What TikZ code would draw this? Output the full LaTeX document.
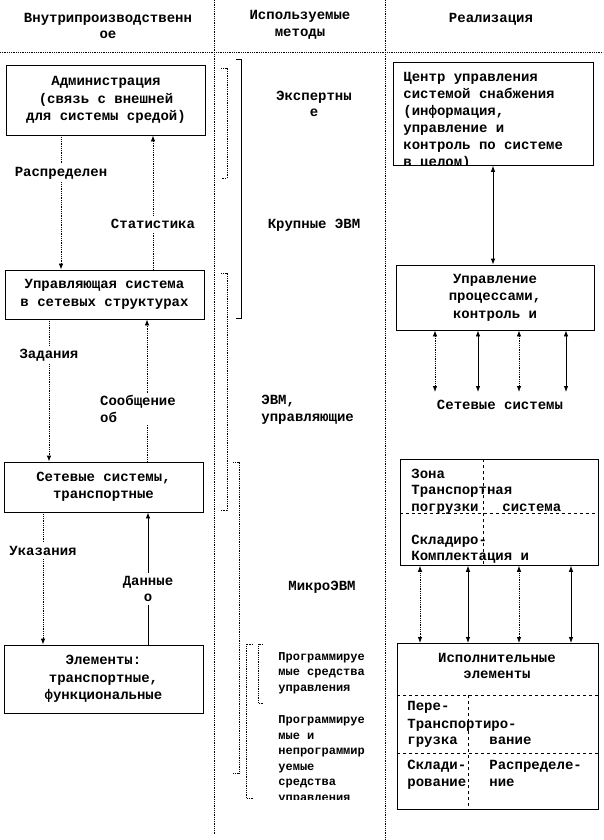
\documentclass[tikz,border=0pt]{standalone}
\usepackage{fontspec}
\setmainfont{Liberation Mono}
\usetikzlibrary{arrows.meta}
\tikzset{
  >={Latex[length=6pt,width=4.5pt]},
  box/.style={draw,line width=.8pt,align=center,font=\bfseries\fontsize{14}{17.5}\selectfont},
  txt/.style={align=center,inner sep=1pt,font=\bfseries\fontsize{14}{16.5}\selectfont},
  lbl/.style={txt,fill=white,inner sep=3pt},
  small/.style={align=left,inner sep=0pt,anchor=west,font=\bfseries\fontsize{12}{15.5}\selectfont},
  dl/.style={densely dotted,line width=.8pt},
}
\begin{document}
\begin{tikzpicture}[x=1pt,y=-1pt,line width=.8pt]
      \useasboundingbox (0,0) rectangle (603,840);
      \draw[dl] (214,0) -- (214,835);
      \draw[dl] (385,0) -- (385,840);
      \draw[dl] (0,52) -- (603,52);

      \node[txt] (h1) at (108,26) {Внутрипроизводственн\\ое};
      \node[txt] (h2) at (300,25) {Используемые\\методы};
      \node[txt] (h3) at (491,19) {Реализация};

      \node[box,minimum width=199pt,minimum height=70pt] (A) at (106,100) {Администрация\\(связь с внешней\\для системы средой)};
      \node[box,minimum width=199pt,minimum height=49pt] (B) at (104.5,294.5) {Управляющая система\\в сетевых структурах};
      \node[box,minimum width=199pt,minimum height=50pt] (C) at (103.5,487) {Сетевые системы,\\транспортные};
      \node[box,minimum width=199pt,minimum height=68pt] (D) at (103.5,679) {Элементы:\\транспортные,\\функциональные};

      \draw[dl,->] (A.south -| 61,0) -- node[lbl,pos=.28]{Распределен} (B.north -| 61,0);
      \draw[dl,->] (B.north -| 153,0) -- node[lbl,pos=.34]{Статистика} (A.south -| 153,0);
      \draw[dl,->] (B.south -| 49,0) -- node[lbl,pos=.25]{Задания} (C.north -| 49,0);
      \draw[dl,->] (C.north -| 147,0) -- node[lbl,pos=.37,xshift=-9pt,align=left]{Сообщение\\об} (B.south -| 147,0);
      \draw[dl,->] (C.south -| 43,0) -- node[lbl,pos=.29]{Указания} (D.north -| 43,0);
      \draw[->] (D.north -| 148,0) -- node[lbl,pos=.42]{Данные\\о} (C.south -| 148,0);

      \draw (236,59) -- (241,59) -- (241,318) -- (236,318);
      \draw[dl] (221,68) -- (227,68) -- (227,178) -- (221,178);
      \draw[dl] (221,273) -- (227,273) -- (227,510) -- (221,510);
      \draw[dl] (233,462) -- (239,462) -- (239,773) -- (233,773);
      \draw[dl] (253,644) -- (246,644) -- (246,798) -- (253,798);
      \draw[dl] (263,644) -- (258,644) -- (258,703) -- (263,703);

      \node[txt] (exp) at (314,104) {Экспертны\\е};
      \node[txt] (big) at (314,225) {Крупные ЭВМ};
      \node[txt,align=left,anchor=west] (ctl) at (260,410) {ЭВМ,\\управляющие};
      \node[txt] (micro) at (322,587) {МикроЭВМ};
      \node[small] (prog) at (278,673) {Программируе\\мые средства\\управления};
      \begin{scope}
        \clip (270,712) rectangle (385,799);
        \node[small] (nprog) at (278,760) {Программируе\\мые и\\непрограммир\\уемые\\средства\\управления};
      \end{scope}

      \begin{scope}
        \clip (393,62) rectangle (593,165.5);
        \node[txt,align=left,anchor=north west,font=\bfseries\fontsize{14}{17}\selectfont] (Rt) at (402,71) {Центр управления\\системой снабжения\\(информация,\\управление и\\контроль по системе\\в целом)};
      \end{scope}
      \node[draw,minimum width=200pt,minimum height=103pt,anchor=north west] (R1) at (393,62) {};
      \node[box,minimum width=198pt,minimum height=65pt] (R2) at (495,297.5) {Управление\\процессами,\\контроль и};
      \draw[<->] (R1.south -| 493,0) -- (R2.north -| 493,0);

      \node[txt] (net) at (500,405) {Сетевые системы};
      \coordinate (n1) at (435,392);
      \coordinate (n2) at (478,392);
      \coordinate (n3) at (519,392);
      \coordinate (n4) at (566,392);
      \draw[dl,<->] (R2.south -| n1) -- (n1);
      \draw[<->] (R2.south -| n2) -- (n2);
      \draw[dl,<->] (R2.south -| n3) -- (n3);
      \draw[<->] (R2.south -| n4) -- (n4);

      \node[draw,minimum width=198pt,minimum height=106pt,anchor=north west] (R3) at (400,459) {};
      \draw[dashed] (R3.north -| 483,0) -- (R3.south -| 483,0);
      \draw[dashed] (R3.west |- 0,513) -- (R3.east |- 0,513);
      \node[txt,anchor=base west] (z1) at (410,478) {Зона};
      \node[txt,anchor=base west] (z2) at (410,494) {Транспортная};
      \node[txt,anchor=base west] (z3) at (410,511) {погрузки};
      \node[txt,anchor=base west] (z4) at (501,511) {система};
      \node[txt,anchor=base west] (z5) at (410,544) {Складиро-};
      \node[txt,anchor=base west] (z6) at (410,560) {Комплектация и};

      \node[draw,minimum width=201pt,minimum height=166pt,anchor=north west] (R4) at (397,643) {};
      \draw[dl,<->] (R3.south -| 420,0) -- (R4.north -| 420,0);
      \draw[<->] (R3.south -| 468,0) -- (R4.north -| 468,0);
      \draw[dl,<->] (R3.south -| 519,0) -- (R4.north -| 519,0);
      \draw[<->] (R3.south -| 571,0) -- (R4.north -| 571,0);

      \node[txt] (ex) at (497,666) {Исполнительные\\элементы};
      \draw[dashed] (R4.west |- 0,695) -- (R4.east |- 0,695);
      \draw[dashed] (R4.west |- 0,753) -- (R4.east |- 0,753);
      \draw[dashed] (468,695) -- (R4.south -| 468,0);
      \node[txt,anchor=base west] (e1) at (406,710) {Пере-};
      \node[txt,anchor=base west] (e2) at (406,728) {Транспортиро-};
      \node[txt,anchor=base west] (e3) at (406,744) {грузка};
      \node[txt,anchor=base west] (e4) at (488,744) {вание};
      \node[txt,anchor=base west] (e5) at (406,769) {Склади-};
      \node[txt,anchor=base west] (e6) at (406,786) {рование};
      \node[txt,anchor=base west] (e7) at (488,769) {Распределе-};
      \node[txt,anchor=base west] (e8) at (488,786) {ние};
    \end{tikzpicture}
\end{document}
